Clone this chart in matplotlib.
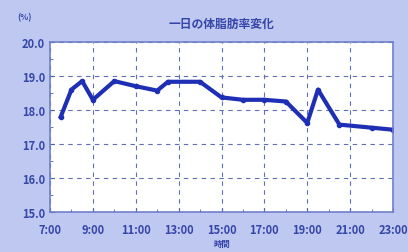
import matplotlib.pyplot as plt
from matplotlib.ticker import MultipleLocator

plt.rcParams['font.family'] = ['Noto Sans CJK JP', 'DejaVu Sans']

# Time of measurement (hours) and body fat percentage
hours = [7.5, 8.0, 8.5, 9.0, 10.0, 11.0, 12.0, 12.5, 14.0, 15.0, 16.0,
         17.0, 18.0, 19.0, 19.5, 20.5, 22.0, 23.0]
body_fat = [17.8, 18.6, 18.85, 18.3, 18.85, 18.7, 18.57, 18.83, 18.83, 18.37, 18.3,
            18.3, 18.25, 17.62, 18.6, 17.57, 17.48, 17.42]

tick_hours = [7, 9, 11, 13, 15, 17, 19, 21, 23]
tick_labels = [f"{h}:00" for h in tick_hours]
y_ticks = [15.0, 16.0, 17.0, 18.0, 19.0, 20.0]

bg = '#bfc8f0'
txt = '#3545a8'
line_color = '#1f2fb5'

fig = plt.figure(figsize=(4.08, 2.53), dpi=100, facecolor=bg)
ax = fig.add_axes([50 / 408, 40 / 253, 343 / 408, 170 / 253])
ax.set_facecolor('white')

ax.plot(hours, body_fat, color=line_color, lw=3.0, marker='o', ms=3,
        solid_joinstyle='round')

ax.set_xlim(7, 23)
ax.set_ylim(15, 20)
ax.set_xticks(tick_hours)
ax.set_xticklabels(tick_labels)
ax.xaxis.set_minor_locator(MultipleLocator(1))
ax.set_yticks(y_ticks)
ax.set_yticklabels([f"{v:.1f}" for v in y_ticks])
ax.yaxis.set_minor_locator(MultipleLocator(0.5))

ax.tick_params(which='both', direction='in', colors='#5060b0', labelsize=8,
               labelcolor=txt)
ax.tick_params(which='major', length=3)
ax.tick_params(which='minor', length=2)
ax.tick_params(axis='x', pad=8)
for lbl in ax.get_xticklabels() + ax.get_yticklabels():
    lbl.set_fontweight('bold')

ax.grid(True, which='major', color='#6070b8', ls=(0, (4, 4)), lw=0.8)
for s in ax.spines.values():
    s.set_color('#7080c8')
    s.set_linewidth(1.2)

ax.set_title("一日の体脂肪率変化", color=txt, fontsize=8.5, fontweight='bold', pad=11)
ax.set_xlabel("時間", color=txt, fontsize=6, fontweight='bold', labelpad=2)
fig.text(25 / 408, 1 - 18 / 253, "(%)", color=txt, fontsize=6, fontweight='bold',
         ha='center', va='center')

fig.savefig('out.png', dpi=100, facecolor=bg)
